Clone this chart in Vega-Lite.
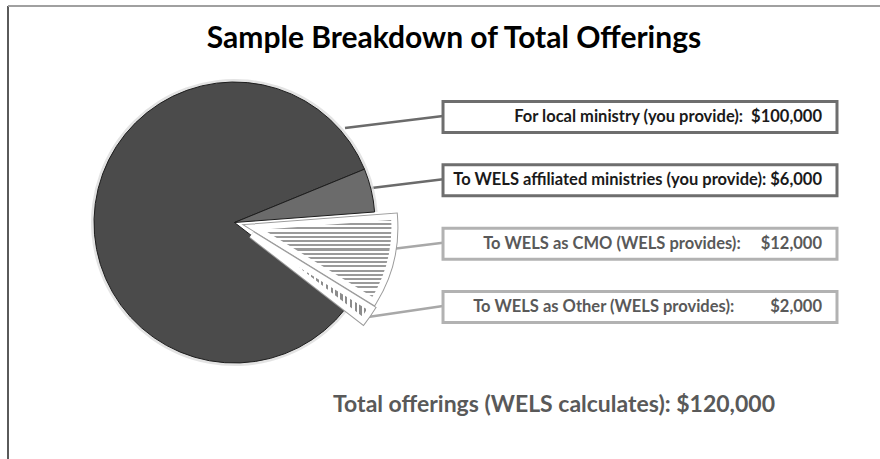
{
  "$schema": "https://vega.github.io/schema/vega-lite/v6.json",
  "width": 872,
  "height": 453,
  "autosize": {"type": "none"},
  "padding": {"left": 8, "top": 6, "right": 0, "bottom": 0},
  "background": "white",
  "config": {"view": {"stroke": null}},
  "title": {
    "text": "Sample Breakdown of Total Offerings",
    "font": "Lato",
    "fontSize": 30,
    "fontWeight": "bold",
    "color": "#000000",
    "anchor": "middle",
    "frame": "group",
    "baseline": "alphabetic",
    "offset": -73,
    "dx": 10
  },
  "data": {
    "values": [
      {"order": 1, "name": "Local ministry", "label": "For local ministry (you provide):\u00a0\u00a0$100,000", "value": 100000},
      {"order": 2, "name": "WELS affiliated ministries", "label": "To WELS affiliated ministries (you provide):\u00a0$6,000", "value": 6000},
      {"order": 3, "name": "WELS as CMO", "label": "To WELS as CMO (WELS provides):\u00a0\u00a0\u00a0\u00a0\u00a0$12,000", "value": 12000},
      {"order": 4, "name": "WELS as Other", "label": "To WELS as Other (WELS provides):\u00a0\u00a0\u00a0\u00a0\u00a0\u00a0\u00a0\u00a0\u00a0$2,000", "value": 2000}
    ]
  },
  "layer": [
    {
      "data": {"values": [{"edge": "left"}]},
      "mark": {"type": "rule", "stroke": "#5a5a5a", "strokeWidth": 2},
      "encoding": {
        "x": {"datum": 0, "type": "quantitative", "scale": {"domain": [0, 13.769], "nice": false, "zero": false}, "axis": null}
      }
    },
    {
      "data": {"values": [{"edge": "top"}]},
      "mark": {"type": "rule", "stroke": "#a0a0a0", "strokeWidth": 2},
      "encoding": {
        "y": {"datum": -0.7527, "type": "quantitative", "scale": {"domain": [-0.7527, 6.4], "reverse": true, "nice": false, "zero": false}, "axis": null}
      }
    },
    {
      "transform": [{"filter": "datum.order <= 3"}],
      "mark": {"type": "rule", "strokeWidth": 2.5, "yOffset": 11, "y2Offset": -1},
      "encoding": {
        "x": {"datum": 5.321, "type": "quantitative", "scale": {"domain": [0, 13.769], "nice": false, "zero": false}, "axis": null},
        "x2": {"datum": 6.869},
        "y": {"field": "order", "type": "quantitative", "scale": {"domain": [-0.7527, 6.4], "reverse": true, "nice": false, "zero": false}, "axis": null},
        "y2": {"field": "order"},
        "stroke": {"condition": {"test": "datum.order <= 2", "value": "#6b6b6b"}, "value": "#a8a8a8"}
      }
    },
    {
      "transform": [{"filter": "datum.order == 4"}],
      "mark": {"type": "rule", "strokeWidth": 2.5, "stroke": "#a8a8a8", "yOffset": 10, "y2Offset": -1},
      "encoding": {
        "x": {"datum": 5.685, "type": "quantitative", "scale": {"domain": [0, 13.769], "nice": false, "zero": false}, "axis": null},
        "x2": {"datum": 6.869},
        "y": {"field": "order", "type": "quantitative", "scale": {"domain": [-0.7527, 6.4], "reverse": true, "nice": false, "zero": false}, "axis": null},
        "y2": {"field": "order"}
      }
    },
    {
      "mark": {"type": "arc", "outerRadius": 143.5, "fill": "#dcdcdc", "strokeWidth": 0},
      "encoding": {
        "theta": {"field": "value", "type": "quantitative", "stack": true, "scale": {"domain": [0, 120000], "range": [2.2288, 8.512]}},
        "order": {"field": "order"},
        "x": {"datum": 3.5765, "type": "quantitative", "scale": {"domain": [0, 13.769], "nice": false, "zero": false}, "axis": null},
        "y": {"datum": 2.6659, "type": "quantitative", "scale": {"domain": [-0.7527, 6.4], "reverse": true, "nice": false, "zero": false}, "axis": null},
        "opacity": {"condition": {"test": "datum.order <= 2", "value": 0.8}, "value": 0}
      }
    },
    {
      "mark": {"type": "arc", "outerRadius": 140.5, "stroke": "#1e1e1e", "strokeWidth": 1},
      "encoding": {
        "theta": {"field": "value", "type": "quantitative", "stack": true, "scale": {"domain": [0, 120000], "range": [2.2288, 8.512]}},
        "order": {"field": "order"},
        "x": {"datum": 3.5765, "type": "quantitative", "scale": {"domain": [0, 13.769], "nice": false, "zero": false}, "axis": null},
        "y": {"datum": 2.6659, "type": "quantitative", "scale": {"domain": [-0.7527, 6.4], "reverse": true, "nice": false, "zero": false}, "axis": null},
        "fill": {"condition": {"test": "datum.order == 1", "value": "#4b4b4b"}, "value": "#6b6b6b"},
        "opacity": {"condition": {"test": "datum.order <= 2", "value": 1}, "value": 0}
      }
    },
    {
      "mark": {"type": "arc", "outerRadius": 140.5, "fill": "transparent", "stroke": "#9c9c9c", "strokeWidth": 8, "xOffset": 19.4, "yOffset": 4.8},
      "encoding": {
        "theta": {"field": "value", "type": "quantitative", "stack": true, "scale": {"domain": [0, 120000], "range": [2.2288, 8.512]}},
        "order": {"field": "order"},
        "x": {"datum": 3.5765, "type": "quantitative", "scale": {"domain": [0, 13.769], "nice": false, "zero": false}, "axis": null},
        "y": {"datum": 2.6659, "type": "quantitative", "scale": {"domain": [-0.7527, 6.4], "reverse": true, "nice": false, "zero": false}, "axis": null},
        "opacity": {"condition": {"test": "datum.order == 3", "value": 1}, "value": 0}
      }
    },
    {
      "mark": {
        "type": "arc", "outerRadius": 140.5, "strokeWidth": 0, "xOffset": 19.4, "yOffset": 4.8,
        "fill": {
          "gradient": "linear", "x1": 0, "y1": 0, "x2": 0, "y2": 1,
          "stops": [
            {"offset": 0, "color": "#ffffff"}, {"offset": 0.025, "color": "#ffffff"}, {"offset": 0.025, "color": "#9a9a9a"}, {"offset": 0.05, "color": "#9a9a9a"},
            {"offset": 0.05, "color": "#ffffff"}, {"offset": 0.075, "color": "#ffffff"}, {"offset": 0.075, "color": "#9a9a9a"}, {"offset": 0.1, "color": "#9a9a9a"},
            {"offset": 0.1, "color": "#ffffff"}, {"offset": 0.125, "color": "#ffffff"}, {"offset": 0.125, "color": "#9a9a9a"}, {"offset": 0.15, "color": "#9a9a9a"},
            {"offset": 0.15, "color": "#ffffff"}, {"offset": 0.175, "color": "#ffffff"}, {"offset": 0.175, "color": "#9a9a9a"}, {"offset": 0.2, "color": "#9a9a9a"},
            {"offset": 0.2, "color": "#ffffff"}, {"offset": 0.225, "color": "#ffffff"}, {"offset": 0.225, "color": "#9a9a9a"}, {"offset": 0.25, "color": "#9a9a9a"},
            {"offset": 0.25, "color": "#ffffff"}, {"offset": 0.275, "color": "#ffffff"}, {"offset": 0.275, "color": "#9a9a9a"}, {"offset": 0.3, "color": "#9a9a9a"},
            {"offset": 0.3, "color": "#ffffff"}, {"offset": 0.325, "color": "#ffffff"}, {"offset": 0.325, "color": "#9a9a9a"}, {"offset": 0.35, "color": "#9a9a9a"},
            {"offset": 0.35, "color": "#ffffff"}, {"offset": 0.375, "color": "#ffffff"}, {"offset": 0.375, "color": "#9a9a9a"}, {"offset": 0.4, "color": "#9a9a9a"},
            {"offset": 0.4, "color": "#ffffff"}, {"offset": 0.425, "color": "#ffffff"}, {"offset": 0.425, "color": "#9a9a9a"}, {"offset": 0.45, "color": "#9a9a9a"},
            {"offset": 0.45, "color": "#ffffff"}, {"offset": 0.475, "color": "#ffffff"}, {"offset": 0.475, "color": "#9a9a9a"}, {"offset": 0.5, "color": "#9a9a9a"},
            {"offset": 0.5, "color": "#ffffff"}, {"offset": 0.525, "color": "#ffffff"}, {"offset": 0.525, "color": "#9a9a9a"}, {"offset": 0.55, "color": "#9a9a9a"},
            {"offset": 0.55, "color": "#ffffff"}, {"offset": 0.575, "color": "#ffffff"}, {"offset": 0.575, "color": "#9a9a9a"}, {"offset": 0.6, "color": "#9a9a9a"},
            {"offset": 0.6, "color": "#ffffff"}, {"offset": 0.625, "color": "#ffffff"}, {"offset": 0.625, "color": "#9a9a9a"}, {"offset": 0.65, "color": "#9a9a9a"},
            {"offset": 0.65, "color": "#ffffff"}, {"offset": 0.675, "color": "#ffffff"}, {"offset": 0.675, "color": "#9a9a9a"}, {"offset": 0.7, "color": "#9a9a9a"},
            {"offset": 0.7, "color": "#ffffff"}, {"offset": 0.725, "color": "#ffffff"}, {"offset": 0.725, "color": "#9a9a9a"}, {"offset": 0.75, "color": "#9a9a9a"},
            {"offset": 0.75, "color": "#ffffff"}, {"offset": 0.775, "color": "#ffffff"}, {"offset": 0.775, "color": "#9a9a9a"}, {"offset": 0.8, "color": "#9a9a9a"},
            {"offset": 0.8, "color": "#ffffff"}, {"offset": 0.825, "color": "#ffffff"}, {"offset": 0.825, "color": "#9a9a9a"}, {"offset": 0.85, "color": "#9a9a9a"},
            {"offset": 0.85, "color": "#ffffff"}, {"offset": 0.875, "color": "#ffffff"}, {"offset": 0.875, "color": "#9a9a9a"}, {"offset": 0.9, "color": "#9a9a9a"},
            {"offset": 0.9, "color": "#ffffff"}, {"offset": 0.925, "color": "#ffffff"}, {"offset": 0.925, "color": "#9a9a9a"}, {"offset": 0.95, "color": "#9a9a9a"},
            {"offset": 0.95, "color": "#ffffff"}, {"offset": 0.975, "color": "#ffffff"}, {"offset": 0.975, "color": "#9a9a9a"}, {"offset": 1, "color": "#9a9a9a"}
          ]
        }
      },
      "encoding": {
        "theta": {"field": "value", "type": "quantitative", "stack": true, "scale": {"domain": [0, 120000], "range": [2.2288, 8.512]}},
        "order": {"field": "order"},
        "x": {"datum": 3.5765, "type": "quantitative", "scale": {"domain": [0, 13.769], "nice": false, "zero": false}, "axis": null},
        "y": {"datum": 2.6659, "type": "quantitative", "scale": {"domain": [-0.7527, 6.4], "reverse": true, "nice": false, "zero": false}, "axis": null},
        "opacity": {"condition": {"test": "datum.order == 3", "value": 1}, "value": 0}
      }
    },
    {
      "mark": {"type": "arc", "outerRadius": 140.5, "fill": "transparent", "stroke": "#ffffff", "strokeWidth": 6, "xOffset": 19.4, "yOffset": 4.8},
      "encoding": {
        "theta": {"field": "value", "type": "quantitative", "stack": true, "scale": {"domain": [0, 120000], "range": [2.2288, 8.512]}},
        "order": {"field": "order"},
        "x": {"datum": 3.5765, "type": "quantitative", "scale": {"domain": [0, 13.769], "nice": false, "zero": false}, "axis": null},
        "y": {"datum": 2.6659, "type": "quantitative", "scale": {"domain": [-0.7527, 6.4], "reverse": true, "nice": false, "zero": false}, "axis": null},
        "opacity": {"condition": {"test": "datum.order == 3", "value": 1}, "value": 0}
      }
    },
    {
      "mark": {"type": "arc", "outerRadius": 140.5, "fill": "transparent", "stroke": "#9c9c9c", "strokeWidth": 8, "xOffset": 17.2, "yOffset": 12.1},
      "encoding": {
        "theta": {"field": "value", "type": "quantitative", "stack": true, "scale": {"domain": [0, 120000], "range": [2.2288, 8.512]}},
        "order": {"field": "order"},
        "x": {"datum": 3.5765, "type": "quantitative", "scale": {"domain": [0, 13.769], "nice": false, "zero": false}, "axis": null},
        "y": {"datum": 2.6659, "type": "quantitative", "scale": {"domain": [-0.7527, 6.4], "reverse": true, "nice": false, "zero": false}, "axis": null},
        "opacity": {"condition": {"test": "datum.order == 4", "value": 1}, "value": 0}
      }
    },
    {
      "mark": {
        "type": "arc", "outerRadius": 140.5, "strokeWidth": 0, "xOffset": 17.2, "yOffset": 12.1,
        "fill": {
          "gradient": "linear", "x1": 0, "y1": 0, "x2": 1, "y2": 0,
          "stops": [
            {"offset": 0, "color": "#ffffff"}, {"offset": 0.02, "color": "#ffffff"}, {"offset": 0.02, "color": "#8c8c8c"}, {"offset": 0.04, "color": "#8c8c8c"},
            {"offset": 0.04, "color": "#ffffff"}, {"offset": 0.06, "color": "#ffffff"}, {"offset": 0.06, "color": "#8c8c8c"}, {"offset": 0.08, "color": "#8c8c8c"},
            {"offset": 0.08, "color": "#ffffff"}, {"offset": 0.1, "color": "#ffffff"}, {"offset": 0.1, "color": "#8c8c8c"}, {"offset": 0.12, "color": "#8c8c8c"},
            {"offset": 0.12, "color": "#ffffff"}, {"offset": 0.14, "color": "#ffffff"}, {"offset": 0.14, "color": "#8c8c8c"}, {"offset": 0.16, "color": "#8c8c8c"},
            {"offset": 0.16, "color": "#ffffff"}, {"offset": 0.18, "color": "#ffffff"}, {"offset": 0.18, "color": "#8c8c8c"}, {"offset": 0.2, "color": "#8c8c8c"},
            {"offset": 0.2, "color": "#ffffff"}, {"offset": 0.22, "color": "#ffffff"}, {"offset": 0.22, "color": "#8c8c8c"}, {"offset": 0.24, "color": "#8c8c8c"},
            {"offset": 0.24, "color": "#ffffff"}, {"offset": 0.26, "color": "#ffffff"}, {"offset": 0.26, "color": "#8c8c8c"}, {"offset": 0.28, "color": "#8c8c8c"},
            {"offset": 0.28, "color": "#ffffff"}, {"offset": 0.3, "color": "#ffffff"}, {"offset": 0.3, "color": "#8c8c8c"}, {"offset": 0.32, "color": "#8c8c8c"},
            {"offset": 0.32, "color": "#ffffff"}, {"offset": 0.34, "color": "#ffffff"}, {"offset": 0.34, "color": "#8c8c8c"}, {"offset": 0.36, "color": "#8c8c8c"},
            {"offset": 0.36, "color": "#ffffff"}, {"offset": 0.38, "color": "#ffffff"}, {"offset": 0.38, "color": "#8c8c8c"}, {"offset": 0.4, "color": "#8c8c8c"},
            {"offset": 0.4, "color": "#ffffff"}, {"offset": 0.42, "color": "#ffffff"}, {"offset": 0.42, "color": "#8c8c8c"}, {"offset": 0.44, "color": "#8c8c8c"},
            {"offset": 0.44, "color": "#ffffff"}, {"offset": 0.46, "color": "#ffffff"}, {"offset": 0.46, "color": "#8c8c8c"}, {"offset": 0.48, "color": "#8c8c8c"},
            {"offset": 0.48, "color": "#ffffff"}, {"offset": 0.5, "color": "#ffffff"}, {"offset": 0.5, "color": "#8c8c8c"}, {"offset": 0.52, "color": "#8c8c8c"},
            {"offset": 0.52, "color": "#ffffff"}, {"offset": 0.54, "color": "#ffffff"}, {"offset": 0.54, "color": "#8c8c8c"}, {"offset": 0.56, "color": "#8c8c8c"},
            {"offset": 0.56, "color": "#ffffff"}, {"offset": 0.58, "color": "#ffffff"}, {"offset": 0.58, "color": "#8c8c8c"}, {"offset": 0.6, "color": "#8c8c8c"},
            {"offset": 0.6, "color": "#ffffff"}, {"offset": 0.62, "color": "#ffffff"}, {"offset": 0.62, "color": "#8c8c8c"}, {"offset": 0.64, "color": "#8c8c8c"},
            {"offset": 0.64, "color": "#ffffff"}, {"offset": 0.66, "color": "#ffffff"}, {"offset": 0.66, "color": "#8c8c8c"}, {"offset": 0.68, "color": "#8c8c8c"},
            {"offset": 0.68, "color": "#ffffff"}, {"offset": 0.7, "color": "#ffffff"}, {"offset": 0.7, "color": "#8c8c8c"}, {"offset": 0.72, "color": "#8c8c8c"},
            {"offset": 0.72, "color": "#ffffff"}, {"offset": 0.74, "color": "#ffffff"}, {"offset": 0.74, "color": "#8c8c8c"}, {"offset": 0.76, "color": "#8c8c8c"},
            {"offset": 0.76, "color": "#ffffff"}, {"offset": 0.78, "color": "#ffffff"}, {"offset": 0.78, "color": "#8c8c8c"}, {"offset": 0.8, "color": "#8c8c8c"},
            {"offset": 0.8, "color": "#ffffff"}, {"offset": 0.82, "color": "#ffffff"}, {"offset": 0.82, "color": "#8c8c8c"}, {"offset": 0.84, "color": "#8c8c8c"},
            {"offset": 0.84, "color": "#ffffff"}, {"offset": 0.86, "color": "#ffffff"}, {"offset": 0.86, "color": "#8c8c8c"}, {"offset": 0.88, "color": "#8c8c8c"},
            {"offset": 0.88, "color": "#ffffff"}, {"offset": 0.9, "color": "#ffffff"}, {"offset": 0.9, "color": "#8c8c8c"}, {"offset": 0.92, "color": "#8c8c8c"},
            {"offset": 0.92, "color": "#ffffff"}, {"offset": 0.94, "color": "#ffffff"}, {"offset": 0.94, "color": "#8c8c8c"}, {"offset": 0.96, "color": "#8c8c8c"},
            {"offset": 0.96, "color": "#ffffff"}, {"offset": 0.98, "color": "#ffffff"}, {"offset": 0.98, "color": "#8c8c8c"}, {"offset": 1, "color": "#8c8c8c"}
          ]
        }
      },
      "encoding": {
        "theta": {"field": "value", "type": "quantitative", "stack": true, "scale": {"domain": [0, 120000], "range": [2.2288, 8.512]}},
        "order": {"field": "order"},
        "x": {"datum": 3.5765, "type": "quantitative", "scale": {"domain": [0, 13.769], "nice": false, "zero": false}, "axis": null},
        "y": {"datum": 2.6659, "type": "quantitative", "scale": {"domain": [-0.7527, 6.4], "reverse": true, "nice": false, "zero": false}, "axis": null},
        "opacity": {"condition": {"test": "datum.order == 4", "value": 1}, "value": 0}
      }
    },
    {
      "mark": {"type": "arc", "outerRadius": 140.5, "fill": "transparent", "stroke": "#ffffff", "strokeWidth": 6, "xOffset": 17.2, "yOffset": 12.1},
      "encoding": {
        "theta": {"field": "value", "type": "quantitative", "stack": true, "scale": {"domain": [0, 120000], "range": [2.2288, 8.512]}},
        "order": {"field": "order"},
        "x": {"datum": 3.5765, "type": "quantitative", "scale": {"domain": [0, 13.769], "nice": false, "zero": false}, "axis": null},
        "y": {"datum": 2.6659, "type": "quantitative", "scale": {"domain": [-0.7527, 6.4], "reverse": true, "nice": false, "zero": false}, "axis": null},
        "opacity": {"condition": {"test": "datum.order == 4", "value": 1}, "value": 0}
      }
    },
    {
      "mark": {"type": "rect", "fill": "#ffffff", "strokeWidth": 3, "yOffset": -15.5, "y2Offset": 15.5},
      "encoding": {
        "x": {"datum": 6.869, "type": "quantitative", "scale": {"domain": [0, 13.769], "nice": false, "zero": false}, "axis": null},
        "x2": {"datum": 13.09},
        "y": {"field": "order", "type": "quantitative", "scale": {"domain": [-0.7527, 6.4], "reverse": true, "nice": false, "zero": false}, "axis": null},
        "y2": {"field": "order"},
        "stroke": {"condition": {"test": "datum.order <= 2", "value": "#6e6e6e"}, "value": "#b2b2b2"}
      }
    },
    {
      "mark": {"type": "text", "align": "right", "baseline": "middle", "font": "Lato", "fontSize": 16.5, "fontWeight": "bold"},
      "encoding": {
        "x": {"datum": 12.853, "type": "quantitative", "scale": {"domain": [0, 13.769], "nice": false, "zero": false}, "axis": null},
        "y": {"field": "order", "type": "quantitative", "scale": {"domain": [-0.7527, 6.4], "reverse": true, "nice": false, "zero": false}, "axis": null},
        "text": {"field": "label"},
        "fill": {"condition": {"test": "datum.order <= 2", "value": "#1a1a1a"}, "value": "#595959"}
      }
    },
    {
      "data": {"values": [{"caption": "Total offerings (WELS calculates): $120,000"}]},
      "mark": {"type": "text", "align": "center", "baseline": "alphabetic", "font": "Lato", "fontSize": 23, "fontWeight": "bold", "fill": "#595959"},
      "encoding": {
        "x": {"datum": 8.622, "type": "quantitative", "scale": {"domain": [0, 13.769], "nice": false, "zero": false}, "axis": null},
        "y": {"datum": 5.658, "type": "quantitative", "scale": {"domain": [-0.7527, 6.4], "reverse": true, "nice": false, "zero": false}, "axis": null},
        "text": {"field": "caption"}
      }
    }
  ]
}
